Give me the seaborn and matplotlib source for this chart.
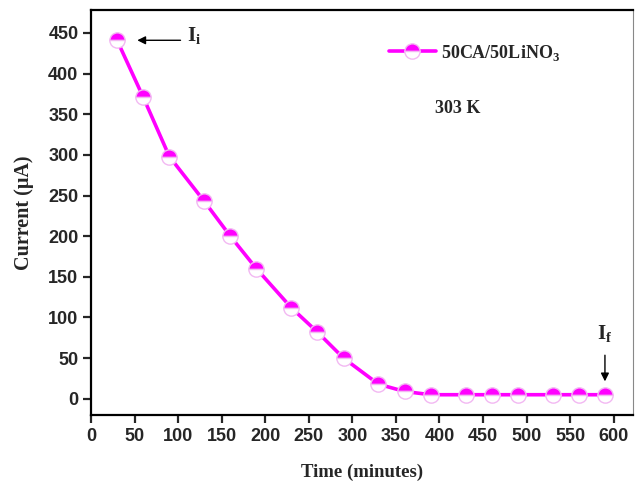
import matplotlib
matplotlib.use("Agg")
import matplotlib.pyplot as plt
import seaborn as sns
import pandas as pd
from matplotlib.lines import Line2D

time_min = [30, 60, 90, 130, 160, 190, 230, 260, 290, 330, 360, 390, 430, 460, 490, 530, 560, 590]
current_uA = [441, 371, 298, 243, 200, 160, 112, 82, 50, 18, 9, 5, 5, 5, 5, 5, 5, 5]
series_label = r"50CA/50LiNO$_\mathbf{3}$"
x_ticks = [0, 50, 100, 150, 200, 250, 300, 350, 400, 450, 500, 550, 600]
y_ticks = [0, 50, 100, 150, 200, 250, 300, 350, 400, 450]

sns.set_style("ticks")
plt.rcParams['mathtext.fontset'] = 'custom'
plt.rcParams['mathtext.bf'] = 'Liberation Serif:bold'
plt.rcParams['mathtext.rm'] = 'Liberation Serif:bold'

df = pd.DataFrame({"Time": time_min, "Current": current_uA})

fig = plt.figure(figsize=(6.36, 4.86), dpi=100)
ax = fig.add_axes([0.143, 0.146, 0.852, 0.833])

sns.lineplot(data=df, x="Time", y="Current", ax=ax, color="#ff00ff", linewidth=2.6,
             marker="o", markersize=11, legend=False)
ln = ax.lines[0]
ln.set_fillstyle("top")
ln.set_markerfacecolor("#ff00ff")
ln.set_markerfacecoloralt("white")
ln.set_markeredgecolor("#f2b8f2")
ln.set_markeredgewidth(1.0)

ax.set_xlim(0, 622)
ax.set_ylim(-20, 478)
ax.set_xticks(x_ticks)
ax.set_yticks(y_ticks)

for sp in ax.spines.values():
    sp.set_linewidth(1.6)
    sp.set_color("black")
ax.spines['right'].set_linewidth(0.8)
ax.spines['right'].set_color("#888888")

ax.tick_params(axis="both", direction="out", length=6, width=1.6, labelsize=13, pad=3)
for lab in ax.get_xticklabels() + ax.get_yticklabels():
    lab.set_fontfamily("Liberation Sans")
    lab.set_fontweight("bold")

ax.set_xlabel("Time (minutes)", fontfamily="Liberation Serif", fontweight="bold", fontsize=13.5, labelpad=14)
ax.set_ylabel("Current (μA)", fontfamily="Liberation Serif", fontweight="bold", fontsize=14.5, labelpad=10)

handle = Line2D([], [], color="#ff00ff", linewidth=2.6, marker="o", markersize=11,
                fillstyle="top", markerfacecolor="#ff00ff", markerfacecoloralt="white",
                markeredgecolor="#f2b8f2", markeredgewidth=1.0)
leg = ax.legend([handle], [series_label], loc="upper left", bbox_to_anchor=(0.52, 0.96),
                frameon=False, handlelength=2.6, handletextpad=0.3,
                prop={"family": "Liberation Serif", "weight": "bold", "size": 13})

ax.text(0.635, 0.745, "303 K", transform=ax.transAxes, fontfamily="Liberation Serif",
        fontweight="bold", fontsize=13)

ax.annotate("", xy=(50, 441), xytext=(106, 441),
            arrowprops=dict(arrowstyle="-|>", color="black", lw=1.0, mutation_scale=12))
ax.text(110, 446, r"I$_\mathrm{i}$", fontfamily="Liberation Serif", fontweight="bold",
        fontsize=15, va="center", ha="left")
ax.annotate("", xy=(590, 18), xytext=(590, 57),
            arrowprops=dict(arrowstyle="-|>", color="black", lw=1.0, mutation_scale=12))
ax.text(590, 80, r"I$_\mathrm{f}$", fontfamily="Liberation Serif", fontweight="bold",
        fontsize=15, va="center", ha="center")

fig.savefig("out.png", dpi=100)
